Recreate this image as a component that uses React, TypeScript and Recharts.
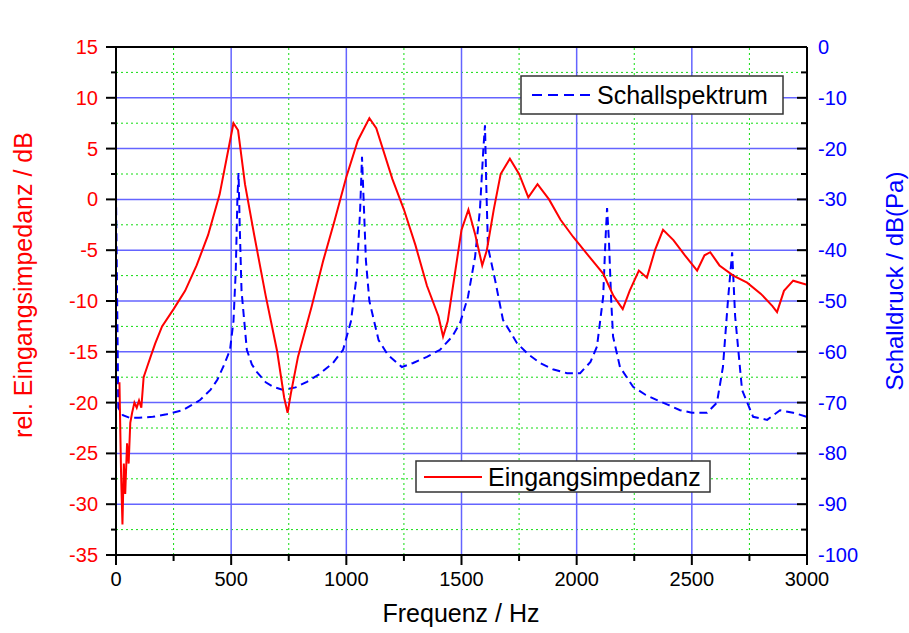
import { LineChart, Line, XAxis, YAxis, ReferenceLine } from "recharts";

// Eingangsimpedanz (left axis, dB)
const impFreq = [
  15, 22, 28, 34, 40, 48, 55, 62, 70, 80, 90, 100, 110, 120, 135, 150, 170, 200, 250, 300,
  350, 400, 450, 480, 510, 530, 560, 600, 650, 700, 730, 745, 760, 790, 850, 900, 950, 1000,
  1050, 1100, 1130, 1200, 1250, 1300, 1350, 1400, 1420, 1440, 1470, 1500, 1530, 1560, 1590,
  1610, 1640, 1670, 1710, 1750, 1790, 1830, 1880, 1930, 1985, 2050, 2115, 2160, 2200, 2230,
  2270, 2305, 2340, 2375, 2420, 2470, 2523, 2555, 2580, 2620, 2680, 2740, 2800, 2850, 2870,
  2900, 2940, 3000,
];
const impDb = [
  -18, -27, -32, -26, -29, -24, -26, -22, -21, -20, -20.5, -19.8, -20.5, -17.5, -16.5, -15.5,
  -14.2, -12.5, -10.8, -9, -6.5, -3.5, 0.5, 4, 7.5, 6.8, 1.5, -3.5, -9.5, -15, -19.5, -21, -19,
  -15.5, -10.5, -6, -2, 2.2, 5.8, 8, 7, 2, -1, -4.5, -8.5, -11.5, -13.5, -12, -7.5, -3, -1, -3.5,
  -6.5, -5, -1, 2.5, 4, 2.5, 0.2, 1.5, 0, -2, -3.7, -5.5, -7.3, -9.5, -10.8, -9, -7, -7.7, -5,
  -3, -4, -5.5, -7, -5.5, -5.2, -6.5, -7.5, -8.2, -9.3, -10.5, -11.1, -9, -8, -8.4,
];

// Schallspektrum (right axis, dB(Pa))
const specFreq = [
  0, 5, 10, 30, 60, 100, 160, 220, 290, 365, 410, 440, 470, 495, 510, 520, 527, 532, 537, 545,
  568, 590, 612, 650, 682, 726, 780, 829, 880, 942, 986, 1020, 1045, 1060, 1068, 1075, 1085,
  1100, 1140, 1180, 1241, 1290, 1350, 1407, 1460, 1494, 1528, 1559, 1580, 1595, 1602, 1608,
  1615, 1646, 1680, 1741, 1790, 1841, 1900, 1958, 2015, 2060, 2088, 2115, 2125, 2132, 2140,
  2150, 2158, 2188, 2245, 2300, 2349, 2400, 2449, 2500, 2566, 2609, 2635, 2657, 2675, 2688,
  2718, 2766, 2827, 2883, 2940, 3000,
];
const specDb = [
  -29, -50, -71, -72.5, -73, -73, -72.8, -72.3, -71.5, -69.5, -67.5, -65.5, -62.5, -59.6, -54,
  -44, -30, -24.8, -35, -48, -59.6, -62.5, -64, -66, -66.9, -67.5, -67, -65.9, -64.5, -62.2,
  -59.6, -54, -45, -32, -21.6, -30, -42, -50, -57.7, -60.6, -63, -62.2, -61, -59.6, -57, -54.3,
  -49.2, -41.3, -32, -20, -15.4, -28, -39.4, -45.9, -53.7, -58.3, -60.5, -62.2, -63.5, -64.2,
  -64.2, -62, -59, -49.2, -38, -31.7, -38, -50, -57, -63, -66.9, -68.5, -69.5, -70.5, -71.5,
  -72, -72, -70, -63, -49.8, -40.4, -53, -67.5, -72.8, -73.4, -71.5, -72, -72.8,
];

const xTicks = [0, 250, 500, 750, 1000, 1250, 1500, 1750, 2000, 2250, 2500, 2750, 3000];
const leftTicks = [
  -35, -32.5, -30, -27.5, -25, -22.5, -20, -17.5, -15, -12.5, -10, -7.5, -5, -2.5, 0, 2.5, 5,
  7.5, 10, 12.5, 15,
];
const rightTicks = [
  -100, -95, -90, -85, -80, -75, -70, -65, -60, -55, -50, -45, -40, -35, -30, -25, -20, -15,
  -10, -5, 0,
];
const gridMajorX = [500, 1000, 1500, 2000, 2500];
const gridMinorX = [250, 750, 1250, 1750, 2250, 2750];
const gridMajorY = [-30, -25, -20, -15, -10, -5, 0, 5, 10];
const gridMinorY = [-32.5, -27.5, -22.5, -17.5, -12.5, -7.5, -2.5, 2.5, 7.5, 12.5];

const impData = impFreq.map((f, i) => ({ f, v: impDb[i] }));
const specData = specFreq.map((f, i) => ({ f, v: specDb[i] }));

const FONT = "'Liberation Sans', Arial, sans-serif";
const BLUE_GRID = "#6464ff";
const GREEN_GRID = "#11dd11";

const onStep = (v: number, step: number) => Math.abs(v / step - Math.round(v / step)) < 1e-6;

function LeftTick(props: any) {
  const { x, y, payload } = props;
  const major = onStep(payload.value, 5);
  return (
    <g>
      <line x1={x - (major ? 10 : 5)} x2={x} y1={y} y2={y} stroke="#000" strokeWidth={2} />
      {major && (
        <text x={x - 18} y={y + 7} textAnchor="end" fill="#ff0000" fontSize={20} fontFamily={FONT}>
          {payload.value}
        </text>
      )}
    </g>
  );
}

function RightTick(props: any) {
  const { x, y, payload } = props;
  const major = onStep(payload.value, 10);
  return (
    <g>
      <line x1={x - (major ? 10 : 6)} x2={x} y1={y} y2={y} stroke="#000" strokeWidth={2} />
      {major && (
        <text x={x + 11} y={y + 7} textAnchor="start" fill="#0000ff" fontSize={20} fontFamily={FONT}>
          {payload.value}
        </text>
      )}
    </g>
  );
}

function BottomTick(props: any) {
  const { x, y, payload } = props;
  const major = onStep(payload.value, 500);
  return (
    <g>
      <line x1={x} x2={x} y1={y} y2={y + (major ? 10 : 6)} stroke="#000" strokeWidth={2} />
      {major && (
        <text x={x} y={y + 31} textAnchor="middle" fill="#000" fontSize={20} fontFamily={FONT}>
          {payload.value}
        </text>
      )}
    </g>
  );
}

function TopTick(props: any) {
  const { x, y, payload } = props;
  const major = onStep(payload.value, 500);
  return (
    <g>
      <line x1={x} x2={x} y1={y} y2={y + (major ? 10 : 5)} stroke="#000" strokeWidth={2} />
      {major && (
        <text x={x} y={y - 16} textAnchor="middle" fill="#000" fontSize={20} fontFamily={FONT}>
          {payload.value}
        </text>
      )}
    </g>
  );
}

export default function App() {
  return (
    <div style={{ position: "absolute", left: 0, top: 0, width: 909, height: 633, background: "#fff" }}>
      <LineChart width={909} height={633} margin={{ top: 0, right: 0, bottom: 0, left: 0 }}>
        <XAxis
          xAxisId={0}
          type="number"
          dataKey="f"
          domain={[0, 3000]}
          ticks={xTicks}
          interval={0}
          height={78}
          tickSize={0}
          tickMargin={0}
          tickLine={false}
          tick={BottomTick}
          axisLine={{ stroke: "#000", strokeWidth: 2 }}
          allowDataOverflow
        />
        <XAxis
          xAxisId="top"
          orientation="top"
          type="number"
          dataKey="f"
          domain={[0, 3000]}
          ticks={xTicks}
          interval={0}
          height={47}
          tickSize={0}
          tickMargin={0}
          tickLine={false}
          tick={TopTick}
          axisLine={{ stroke: "#000", strokeWidth: 2 }}
        />
        <YAxis
          yAxisId="L"
          type="number"
          domain={[-35, 15]}
          ticks={leftTicks}
          interval={0}
          width={116}
          tickSize={0}
          tickMargin={0}
          tickLine={false}
          tick={LeftTick}
          axisLine={{ stroke: "#000", strokeWidth: 2 }}
          allowDataOverflow
        />
        <YAxis
          yAxisId="R"
          orientation="right"
          type="number"
          domain={[-100, 0]}
          ticks={rightTicks}
          interval={0}
          width={102}
          tickSize={0}
          tickMargin={0}
          tickLine={false}
          tick={RightTick}
          axisLine={{ stroke: "#000", strokeWidth: 2 }}
          allowDataOverflow
        />
        {gridMinorX.map((v) => (
          <ReferenceLine key={"mx" + v} x={v} xAxisId={0} yAxisId="L" stroke={GREEN_GRID} strokeDasharray="2 3" />
        ))}
        {gridMinorY.map((v) => (
          <ReferenceLine key={"my" + v} y={v} xAxisId={0} yAxisId="L" stroke={GREEN_GRID} strokeDasharray="2 3" />
        ))}
        {gridMajorX.map((v) => (
          <ReferenceLine key={"gx" + v} x={v} xAxisId={0} yAxisId="L" stroke={BLUE_GRID} strokeWidth={1.5} />
        ))}
        {gridMajorY.map((v) => (
          <ReferenceLine key={"gy" + v} y={v} xAxisId={0} yAxisId="L" stroke={BLUE_GRID} strokeWidth={1.5} />
        ))}
        <Line
          data={specData}
          xAxisId={0}
          yAxisId="R"
          dataKey="v"
          type="linear"
          stroke="#0000ff"
          strokeWidth={2}
          strokeDasharray="8 5"
          dot={false}
          isAnimationActive={false}
        />
        <Line
          data={impData}
          xAxisId={0}
          yAxisId="L"
          dataKey="v"
          type="linear"
          stroke="#ff0000"
          strokeWidth={2}
          dot={false}
          isAnimationActive={false}
        />
      </LineChart>
      <svg width={909} height={633} style={{ position: "absolute", left: 0, top: 0, pointerEvents: "none" }}>
        <text
          transform="translate(32,285) rotate(-90)"
          textAnchor="middle"
          fill="#ff0000"
          fontSize={25}
          fontFamily={FONT}
        >
          rel. Eingangsimpedanz / dB
        </text>
        <text
          transform="translate(903,281) rotate(-90)"
          textAnchor="middle"
          fill="#0000ff"
          fontSize={24}
          fontFamily={FONT}
        >
          Schalldruck / dB(Pa)
        </text>
        <text x={461} y={622} textAnchor="middle" fill="#000" fontSize={25} fontFamily={FONT}>
          Frequenz / Hz
        </text>
        <rect x={521} y={76} width={262} height={38} fill="#fff" stroke="#333" strokeWidth={1.5} />
        <line x1={532} x2={592} y1={95} y2={95} stroke="#0000ff" strokeWidth={2} strokeDasharray="10 6" />
        <text x={597} y={104} fill="#000" fontSize={25} fontFamily={FONT}>
          Schallspektrum
        </text>
        <rect x={416} y={461} width={294} height={31} fill="#fff" stroke="#333" strokeWidth={1.5} />
        <line x1={424} x2={482} y1={477} y2={477} stroke="#ff0000" strokeWidth={2} />
        <text x={488} y={486} fill="#000" fontSize={25} fontFamily={FONT}>
          Eingangsimpedanz
        </text>
      </svg>
    </div>
  );
}
